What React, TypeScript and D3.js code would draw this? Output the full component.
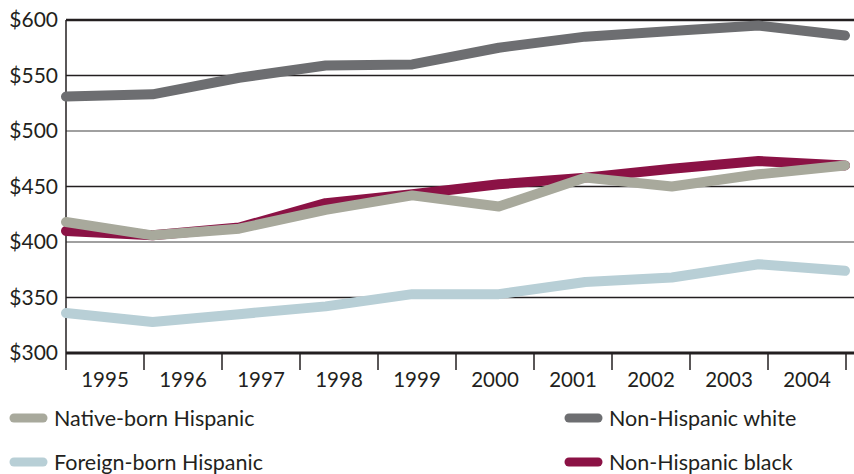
import React from "react";
import * as d3 from "d3";

const years = ["1995", "1996", "1997", "1998", "1999", "2000", "2001", "2002", "2003", "2004"];
const nonHispanicWhite = [531, 533, 548, 559, 560, 575, 585, 590, 595, 586];
const nativeBornHispanic = [418, 406, 412, 429, 442, 432, 458, 450, 461, 469];
const nonHispanicBlack = [410, 406, 413, 435, 443, 452, 458, 466, 473, 469];
const foreignBornHispanic = [336, 328, 335, 342, 353, 353, 364, 368, 380, 374];
const yTicks = [300, 350, 400, 450, 500, 550, 600];

const W = 854, H = 474;
const left = 66, right = 854, top = 20, bottom = 353;
const FONT = "Lato, 'Open Sans', sans-serif";

export default function App() {
  const y = d3.scaleLinear().domain([300, 600]).range([bottom, top]);
  const xPts = d3.scalePoint<string>().domain(years).range([66, 845]);
  const xBand = d3.scaleBand<string>().domain(years).range([66, 846]);
  const line = d3.line<number>().x((_, i) => xPts(years[i])!).y((d) => y(d));

  const series = [
    { name: "Non-Hispanic white", values: nonHispanicWhite, color: "#6d6e71" },
    { name: "Foreign-born Hispanic", values: foreignBornHispanic, color: "#b8cfd6" },
    { name: "Non-Hispanic black", values: nonHispanicBlack, color: "#8b1245" },
    { name: "Native-born Hispanic", values: nativeBornHispanic, color: "#a8a99c" },
  ];
  const legend = [
    { s: series[3], x: 10, y: 418 },
    { s: series[1], x: 10, y: 462 },
    { s: series[0], x: 565, y: 418 },
    { s: series[2], x: 565, y: 462 },
  ];
  const gridColor = (t: number) => (t === 500 || t === 400 ? "#808080" : "#231f20");

  return (
    <svg width={W} height={H} style={{ position: "absolute", left: 0, top: 0, background: "#fff" }}>
      {yTicks.map((t) => (
        <g key={t}>
          <line x1={left} x2={right} y1={y(t)} y2={y(t)} stroke={gridColor(t)}
            strokeWidth={t === 600 ? 2.5 : t === 300 ? 3 : 1.5} />
          <text x={58} y={y(t) + 7} textAnchor="end" fontFamily={FONT} fontSize={21} fill="#231f20">
            ${t}
          </text>
        </g>
      ))}
      <line x1={left} x2={left} y1={top} y2={370} stroke="#231f20" strokeWidth={1.5} />
      {years.map((yr) => (
        <g key={yr}>
          <line x1={xBand(yr)! + xBand.bandwidth()} x2={xBand(yr)! + xBand.bandwidth()} y1={bottom} y2={370}
            stroke="#231f20" strokeWidth={1.5} />
          <text x={xBand(yr)! + xBand.bandwidth() / 2} y={387} textAnchor="middle" fontFamily={FONT}
            fontSize={20.5} fill="#231f20">{yr}</text>
        </g>
      ))}
      {series.map((s) => (
        <path key={s.name} d={line(s.values)!} fill="none" stroke={s.color} strokeWidth={10}
          strokeLinecap="round" strokeLinejoin="round" />
      ))}
      {legend.map((l) => (
        <g key={l.s.name}>
          <line x1={l.x + 4} x2={l.x + 33} y1={l.y} y2={l.y} stroke={l.s.color} strokeWidth={9} strokeLinecap="round" />
          <text x={l.x + 44} y={l.y + 8} fontFamily={FONT} fontSize={21.5} fill="#231f20">{l.s.name}</text>
        </g>
      ))}
    </svg>
  );
}
